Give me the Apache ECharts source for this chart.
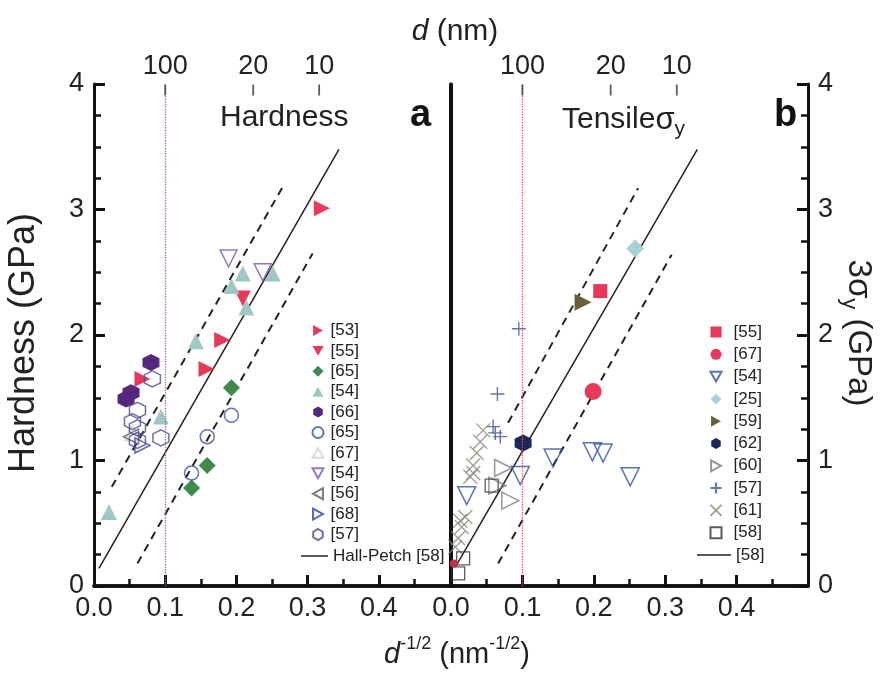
<!DOCTYPE html>
<html><head><meta charset="utf-8">
<script src="https://cdn.jsdelivr.net/npm/echarts@6/dist/echarts.min.js"></script>
<style>html,body{margin:0;padding:0;background:#fff}#c{width:888px;height:689px}</style>
</head><body><div id="c"></div>
<script>
// ---- axis / tick data ----
const xRange = [0, 0.5];
const yRange = [0, 4];
const topTickD = [100, 20, 10];      // d (nm) shown on top axes
const refD = 100;                    // dotted reference line (d = 100 nm)

// ---- panel a: Hardness ----
const a53  = [[0.320,3.01],[0.180,1.96],[0.158,1.73],[0.068,1.65]];
const a55  = [[0.209,2.29]];
const a65f = [[0.193,1.58],[0.159,0.96],[0.137,0.78]];
const a54f = [[0.209,2.49],[0.251,2.49],[0.193,2.39],[0.214,2.22],[0.143,1.95],[0.094,1.35],[0.021,0.59]];
const a66  = [[0.080,1.78],[0.052,1.54],[0.045,1.49]];
const a65o = [[0.193,1.36],[0.159,1.19],[0.137,0.90]];
const a67  = [[0.054,1.22]];
const a54o = [[0.189,2.61],[0.237,2.50]];
const a56  = [[0.052,1.19]];
const a68  = [[0.068,1.12]];
const a57  = [[0.082,1.65],[0.061,1.40],[0.054,1.31],[0.061,1.26],[0.061,1.16],[0.094,1.18]];
const hpA  = [[0.007,0.14],[0.344,3.48]];
const upA  = [[0.025,0.79],[0.266,3.19]];
const loA  = [[0.061,0.18],[0.307,2.65]];

// ---- panel b: Tensile 3*sigma_y ----
const b55 = [[0.209,2.35]];
const b67 = [[0.199,1.55]];
const b67small = [[0.004,0.18]];
const b54 = [[0.143,1.02],[0.198,1.07],[0.213,1.06],[0.251,0.87],[0.097,0.88],[0.022,0.72]];
const b25 = [[0.258,2.69]];
const b59 = [[0.185,2.26]];
const b62 = [[0.101,1.14]];
const b60 = [[0.073,0.94],[0.065,0.80],[0.083,0.68]];
const b57 = [[0.095,2.05],[0.065,1.53],[0.059,1.27],[0.062,1.22],[0.069,1.19]];
const b61 = [[0.045,1.24],[0.041,1.15],[0.036,1.06],[0.031,0.96],[0.027,0.87],[0.031,0.90],[0.020,0.55],[0.015,0.47],[0.013,0.52],[0.010,0.38],[0.006,0.31]];
const b58 = [[0.057,0.80],[0.017,0.22],[0.010,0.10]];
const hpB = [[0.006,0.15],[0.345,3.48]];
const upB = [[0.080,1.30],[0.262,3.17]];
const loB = [[0.066,0.18],[0.309,2.64]];

// ---- styling helpers ----
const HEX = 'path://M0,-1 L0.866,-0.5 L0.866,0.5 L0,1 L-0.866,0.5 L-0.866,-0.5 Z';
const CROSS = 'path://M0,0 L10,10 M10,0 L0,10';
const PLUS = 'path://M5,0 L5,10 M0,5 L10,5';
const TRI_U = 'path://M5,0 L10,9 L0,9 Z';
const TRI_D = 'path://M0,0 L10,0 L5,9 Z';
const TRI_R = 'path://M0,0 L9,5 L0,10 Z';
const TRI_L = 'path://M9,0 L0,5 L9,10 Z';
const RED = '#e8395a', GREEN = '#3f8a4c', TEAL = '#9fc8c4', PURPLE = '#55287e';
const FONT = 'Liberation Sans, Arial, sans-serif';
const Z = '\u200b';

function sc(name, data, xi, yi, symbol, size, color, opts) {
  opts = opts || {};
  const hollow = !!opts.hollow;
  return {
    type: 'scatter', name: name, data: data, xAxisIndex: xi, yAxisIndex: yi,
    symbol: symbol, symbolSize: size,
    itemStyle: hollow ? {color: 'rgba(255,255,255,0)', borderColor: color, borderWidth: opts.bw || 1.5}
                      : {color: color, opacity: 1},
    emphasis: {disabled: true}, z: 3
  };
}
function ln(name, data, xi, yi, dashed) {
  return {
    type: 'line', name: name, data: data, xAxisIndex: xi, yAxisIndex: yi,
    symbol: 'none', silent: true, z: 2, itemStyle: {color: '#222'},
    lineStyle: {color: '#222', width: dashed ? 2 : 1.5, type: dashed ? [8, 6] : 'solid'}
  };
}
const refLine = {
  type: 'line', data: [], silent: true, symbol: 'none',
  markLine: {symbol: 'none', silent: true, label: {show: false},
    lineStyle: {type: 'dotted', color: '#e05060', width: 1.3},
    data: [{xAxis: 1 / Math.sqrt(refD)}]}
};
// top-axis ticks at d = 100, 20, 10 nm (drawn through the x scale)
function topTicks(xi, yi) {
  return {
    type: 'scatter', name: 'topTicks' + xi, xAxisIndex: xi, yAxisIndex: yi, silent: true, z: 5,
    data: topTickD.map(d => [1 / Math.sqrt(d), yRange[1]]),
    symbol: 'rect', symbolSize: [1.8, 11], symbolOffset: [0, 6],
    itemStyle: {color: '#333'}, emphasis: {disabled: true}
  };
}

const left = [
  sc('[53]', a53, 0, 0, TRI_R, 16, RED),
  sc('[55]', a55, 0, 0, TRI_D, 16, RED),
  sc('[65]', a65f, 0, 0, 'diamond', 17, GREEN),
  sc('[54]', a54f, 0, 0, TRI_U, 16, TEAL),
  sc('[66]', a66, 0, 0, HEX, 17, PURPLE),
  sc('[65]' + Z, a65o, 0, 0, 'circle', 14, '#4050a8', {hollow: true}),
  sc('[67]', a67, 0, 0, TRI_U, 15, '#d0d0d0', {hollow: true}),
  sc('[54]' + Z, a54o, 0, 0, TRI_D, 17, '#7a5aa8', {hollow: true}),
  sc('[56]', a56, 0, 0, TRI_L, 15, '#5a5a6a', {hollow: true}),
  sc('[68]', a68, 0, 0, TRI_R, 15, '#3040a0', {hollow: true}),
  sc('[57]', a57, 0, 0, HEX, 16, '#4a4a90', {hollow: true})
];
const hpNameA = 'Hall-Petch [58]';
const right = [
  sc('[55]' + Z + Z, b55, 2, 3, 'rect', 14, RED),
  sc('[67]' + Z + Z, b67, 2, 3, 'circle', 17, RED),
  sc('[54]' + Z + Z, b54, 2, 3, TRI_D, 18, '#3050a0', {hollow: true}),
  sc('[25]', b25, 2, 3, 'diamond', 18, '#a9d2d6'),
  sc('[59]', b59, 2, 3, TRI_R, 17, '#6b6035'),
  sc('[62]', b62, 2, 3, HEX, 17, '#18285a'),
  sc('[60]', b60, 2, 3, TRI_R, 17, '#7a7a88', {hollow: true}),
  sc('[57]' + Z + Z, b57, 2, 3, PLUS, 14, '#4050a0', {hollow: true, bw: 1.4}),
  sc('[61]', b61, 2, 3, CROSS, 14, '#8a8a78', {hollow: true, bw: 1.4}),
  sc('[58]', b58, 2, 3, 'rect', 13, '#333', {hollow: true, bw: 1.3})
];
const extra = [sc('b67small', b67small, 2, 3, 'circle', 8, '#c0304a'), topTicks(0, 0), topTicks(2, 3)];
const hpNameB = '[58]' + Z + Z;

const series = [].concat(left, right, extra, [
  ln(hpNameA, hpA, 0, 0, false), ln('upA', upA, 0, 0, true), ln('loA', loA, 0, 0, true),
  ln(hpNameB, hpB, 2, 3, false), ln('upB', upB, 2, 3, true), ln('loB', loB, 2, 3, true),
  Object.assign({}, refLine, {xAxisIndex: 0, yAxisIndex: 0}),
  Object.assign({}, refLine, {xAxisIndex: 2, yAxisIndex: 3})
]);

const AX = {lineStyle: {color: '#111', width: 3.5}};
function bottomX(grid) {
  return {
    type: 'value', gridIndex: grid, position: 'bottom', min: xRange[0], max: xRange[1], interval: 0.1,
    axisLine: AX, splitLine: {show: false},
    axisTick: {inside: true, length: 11, lineStyle: {color: '#111', width: 3}},
    minorTick: {show: true, splitNumber: 2, length: 7, lineStyle: {color: '#111', width: 2.5}},
    axisLabel: {fontSize: 27, fontFamily: FONT, color: '#222', margin: 9,
      formatter: v => (v >= 0.49 ? '' : v.toFixed(1))}
  };
}
function topX(grid) {
  const vals = topTickD.map(d => 1 / Math.sqrt(d));
  return {
    type: 'value', gridIndex: grid, position: 'top', min: xRange[0], max: xRange[1],
    axisLine: AX, splitLine: {show: false},
    axisTick: {show: false},
    axisLabel: {fontSize: 27, fontFamily: FONT, color: '#222', margin: 4, customValues: vals,
      formatter: v => String(Math.round(1 / (v * v)))}
  };
}
function valY(grid, pos, withTicks) {
  return {
    type: 'value', gridIndex: grid, position: pos, min: yRange[0], max: yRange[1], interval: 1,
    axisLine: {show: true, onZero: false, lineStyle: {color: '#111', width: 3}}, splitLine: {show: false},
    axisTick: {show: withTicks, inside: true, length: 11, lineStyle: {color: '#111', width: 3}},
    minorTick: {show: withTicks, splitNumber: 4, length: 7, lineStyle: {color: '#111', width: 2.5}},
    axisLabel: {show: withTicks, fontSize: 27, fontFamily: FONT, color: '#222', margin: 10}
  };
}

const legText = {fontSize: 17, fontFamily: FONT, color: '#222'};
const strip = n => n.replace(/\u200b/g, '');

const option = {
  animation: false,
  backgroundColor: '#fff',
  grid: [
    {left: 94, right: 438, top: 84, bottom: 103},
    {left: 451, right: 80, top: 84, bottom: 103}
  ],
  xAxis: [bottomX(0), topX(0), bottomX(1), topX(1)],
  yAxis: [valY(0, 'left', true), valY(0, 'right', false), valY(1, 'left', false), valY(1, 'right', true)],
  legend: [
    {orient: 'vertical', left: 311.5, top: 322, padding: 0, itemWidth: 11, itemHeight: 11, itemGap: 3.4,
     data: left.map(s => s.name), formatter: strip, textStyle: Object.assign({padding: [0, 0, 0, 2]}, legText), selectedMode: false},
    {orient: 'vertical', left: 301, top: 547.5, padding: 0, itemWidth: 27, itemHeight: 1.5, itemGap: 5, icon: 'rect',
     data: [{name: hpNameA, itemStyle: {color: '#222'}}], formatter: strip, textStyle: legText, selectedMode: false},
    {orient: 'vertical', left: 709.5, top: 323.5, padding: 0, itemWidth: 11, itemHeight: 11, itemGap: 5.3,
     data: right.map(s => s.name), formatter: strip, textStyle: Object.assign({padding: [0, 0, 0, 7]}, legText), selectedMode: false},
    {orient: 'vertical', left: 697, top: 546.5, padding: 0, itemWidth: 34, itemHeight: 1.5, itemGap: 5, icon: 'rect',
     data: [{name: hpNameB, itemStyle: {color: '#222'}}], formatter: strip, textStyle: legText, selectedMode: false}
  ],
  graphic: [
    {type: 'text', x: 455, y: 32, style: {text: '{i|d}{n| (nm)}', textAlign: 'center', textVerticalAlign: 'middle',
      rich: {i: {fontSize: 30, fontStyle: 'italic', fontFamily: FONT, fill: '#222'}, n: {fontSize: 30, fontFamily: FONT, fill: '#222'}}}},
    {type: 'text', x: 24, y: 343, rotation: Math.PI / 2,
      style: {text: 'Hardness (GPa)', font: '36px ' + FONT, fill: '#222', textAlign: 'center', textVerticalAlign: 'middle'}},
    {type: 'text', x: 858, y: 333, rotation: -Math.PI / 2,
      style: {text: '{a|3σ}{s|y}{a| (GPa)}', textAlign: 'center', textVerticalAlign: 'middle',
        rich: {a: {fontSize: 33, fontFamily: FONT, fill: '#222', lineHeight: 40},
               s: {fontSize: 22, fontFamily: FONT, fill: '#222', lineHeight: 40, verticalAlign: 'bottom'}}}},
    {type: 'text', x: 457, y: 655,
      style: {text: '{i|d}{p|-1/2}{a| (nm}{p|-1/2}{a|)}', textAlign: 'center', textVerticalAlign: 'middle',
        rich: {i: {fontSize: 29, fontStyle: 'italic', fontFamily: FONT, fill: '#222', lineHeight: 40},
               a: {fontSize: 29, fontFamily: FONT, fill: '#222', lineHeight: 40},
               p: {fontSize: 18, fontFamily: FONT, fill: '#222', lineHeight: 40, verticalAlign: 'top'}}}},
    {type: 'text', x: 220, y: 118, style: {text: 'Hardness', font: '30px ' + FONT, fill: '#222', textVerticalAlign: 'middle'}},
    {type: 'text', x: 410, y: 116, style: {text: 'a', font: 'bold 38px ' + FONT, fill: '#111', textVerticalAlign: 'middle'}},
    {type: 'text', x: 562, y: 120,
      style: {text: '{a|Tensile}{g|σ}{s|y}', textVerticalAlign: 'middle',
        rich: {a: {fontSize: 30, fontFamily: FONT, fill: '#222', lineHeight: 40},
               g: {fontSize: 31, fontFamily: FONT, fill: '#222', lineHeight: 40},
               s: {fontSize: 21, fontFamily: FONT, fill: '#222', lineHeight: 40, verticalAlign: 'bottom'}}}},
    {type: 'text', x: 774, y: 116, style: {text: 'b', font: 'bold 38px ' + FONT, fill: '#111', textVerticalAlign: 'middle'}}
  ],
  series: series
};
echarts.init(document.getElementById('c'), null, {renderer: 'canvas'}).setOption(option);
</script></body></html>
